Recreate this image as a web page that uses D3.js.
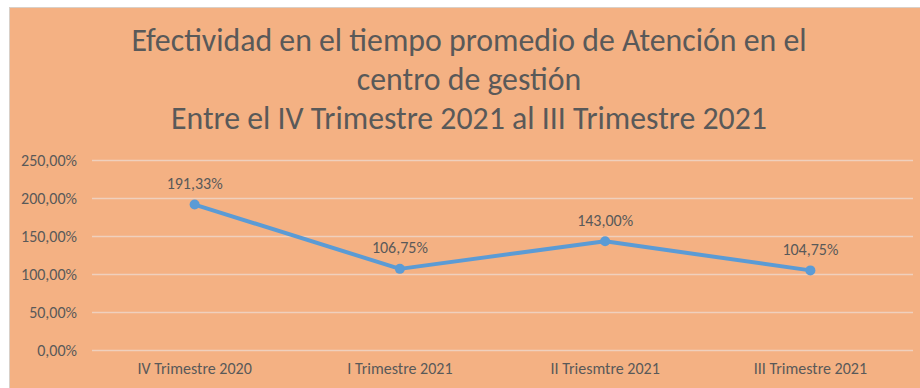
<!DOCTYPE html>
<html>
<head>
<meta charset="utf-8">
<script src="https://cdn.jsdelivr.net/npm/d3@7"></script>
<style>
  html, body { margin: 0; padding: 0; background: #ffffff; }
  svg { display: block; }
</style>
</head>
<body>
<svg id="chart" width="920" height="388"></svg>
<script>
// Quarterly effectiveness of average attention time
const categories = ["IV Trimestre 2020", "I Trimestre 2021", "II Triesmtre 2021", "III Trimestre 2021"];
const values = [191.33, 106.75, 143.00, 104.75];
const yTicks = [0, 50, 100, 150, 200, 250];
const titleLines = [
  "Efectividad en el tiempo promedio de Atención en el",
  "centro de gestión",
  "Entre el IV Trimestre 2021 al III Trimestre 2021"
];

const W = 920, H = 388;
const svg = d3.select("#chart");
const font = "Carlito, 'Open Sans', 'Noto Sans', sans-serif";
const textColor = "#595959";

// chart area background
svg.append("rect")
  .attr("x", 9.5).attr("y", 7.5)
  .attr("width", W - 9).attr("height", H - 7)
  .attr("fill", "#F4B183")
  .attr("stroke", "#d9d0c8").attr("stroke-width", 1);

// title (alphabetic baselines)
const titleBaselines = [51, 89.5, 129];
svg.append("g").selectAll("text")
  .data(titleLines)
  .join("text")
  .attr("x", 469)
  .attr("y", (d, i) => titleBaselines[i])
  .attr("text-anchor", "middle")
  .attr("font-family", font)
  .attr("font-size", 31.8)
  .attr("fill", textColor)
  .text(d => d);

const margin = { left: 92 };
const plotRight = 913;

const x = d3.scaleBand()
  .domain(categories)
  .range([margin.left, plotRight])
  .paddingInner(0).paddingOuter(0);

const y = d3.scaleLinear()
  .domain([0, 250])
  .range([350, 160]);

// gridlines
const grid = d3.axisLeft(y)
  .tickValues(yTicks)
  .tickSize(-(plotRight - margin.left))
  .tickFormat("");
const gridG = svg.append("g")
  .attr("transform", `translate(${margin.left},0)`)
  .call(grid);
gridG.select(".domain").remove();
gridG.selectAll(".tick line")
  .attr("stroke", "#efd0bd")
  .attr("stroke-width", 1.5);

// y axis labels
const fmtPct = v => d3.format(".2f")(v).replace(".", ",") + "%";
const yAxis = d3.axisLeft(y)
  .tickValues(yTicks)
  .tickSize(0)
  .tickPadding(15)
  .tickFormat(fmtPct);
const yG = svg.append("g")
  .attr("transform", `translate(${margin.left},0)`)
  .call(yAxis);
yG.select(".domain").remove();
yG.selectAll("text")
  .attr("font-family", font)
  .attr("font-size", 16)
  .attr("fill", textColor);

// x axis labels
const xAxis = d3.axisBottom(x).tickSize(0).tickPadding(13);
const xG = svg.append("g")
  .attr("transform", `translate(0,350)`)
  .call(xAxis);
xG.select(".domain").remove();
xG.selectAll("text")
  .attr("font-family", font)
  .attr("font-size", 16)
  .attr("fill", textColor);

const cx = d => x(d) + x.bandwidth() / 2;

// series line
const line = d3.line()
  .x((d, i) => cx(categories[i]))
  .y(d => y(d));
svg.append("path")
  .datum(values)
  .attr("d", line)
  .attr("fill", "none")
  .attr("stroke", "#5B9BD5")
  .attr("stroke-width", 4)
  .attr("stroke-linejoin", "round");

// markers
svg.append("g").selectAll("circle")
  .data(values)
  .join("circle")
  .attr("cx", (d, i) => cx(categories[i]))
  .attr("cy", d => y(d))
  .attr("r", 5)
  .attr("fill", "#5B9BD5");

// data labels
svg.append("g").selectAll("text")
  .data(values)
  .join("text")
  .attr("x", (d, i) => cx(categories[i]))
  .attr("y", d => y(d) - 21)
  .attr("text-anchor", "middle")
  .attr("dominant-baseline", "central")
  .attr("font-family", font)
  .attr("font-size", 16)
  .attr("fill", textColor)
  .text(d => fmtPct(d));
</script>
</body>
</html>
